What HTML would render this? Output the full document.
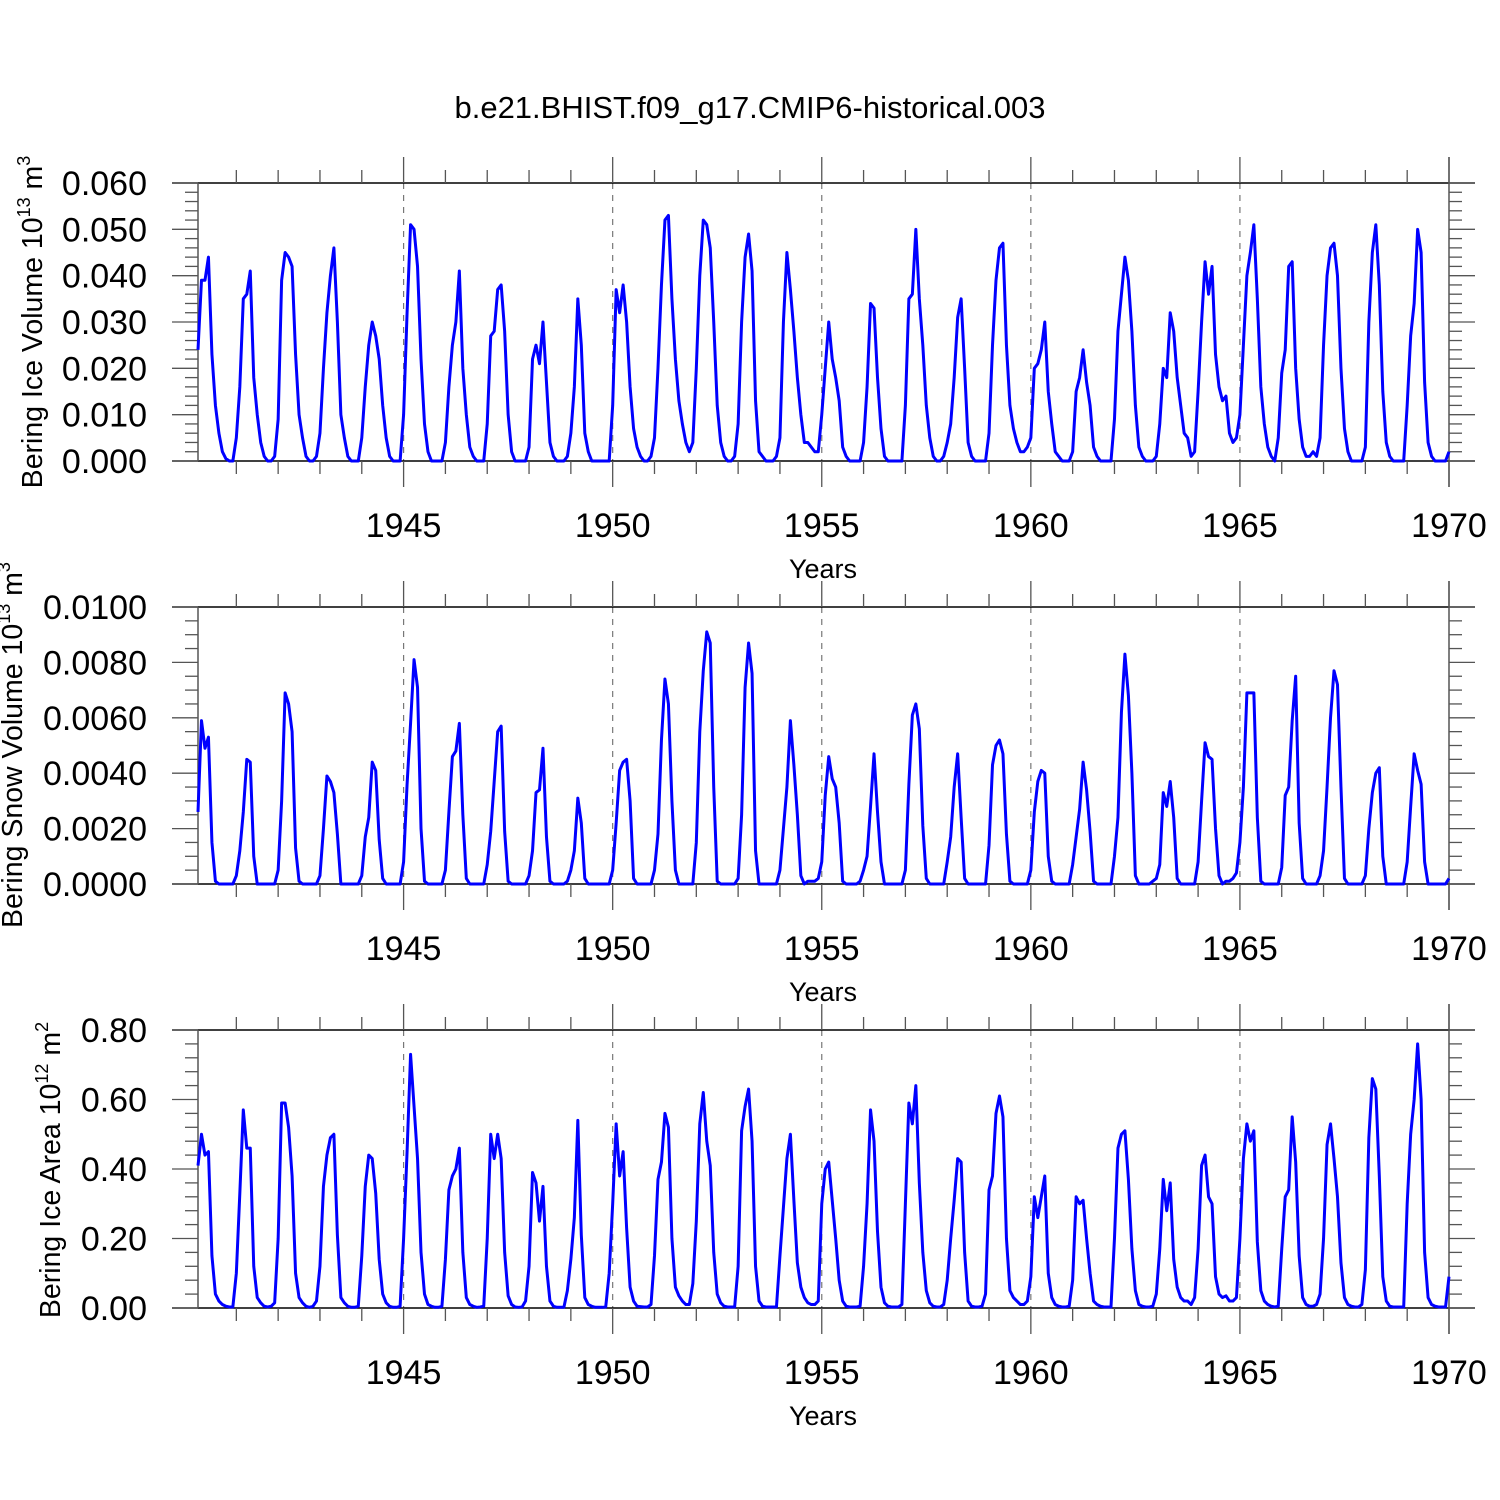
<!DOCTYPE html>
<html><head><meta charset="utf-8"><style>
html,body{margin:0;padding:0;background:#fff}
svg{display:block}
text{font-family:"Liberation Sans",Arial,sans-serif;fill:#000}
</style></head><body>
<svg id="chart" width="1500" height="1500" viewBox="0 0 1500 1500" xmlns="http://www.w3.org/2000/svg">
<text x="750" y="118" font-size="31" text-anchor="middle">b.e21.BHIST.f09_g17.CMIP6-historical.003</text>
</svg>
<script>
const xStart = 1940;
const xTickYears = [1945, 1950, 1955, 1960, 1965, 1970];
const iceVolume = [
.024,.039,.039,.044,.023,.012,.006,.002,.0005,0,0,.005,
.016,.035,.036,.041,.018,.010,.004,.001,0,0,.001,.009,
.039,.045,.044,.042,.023,.010,.005,.001,0,0,.001,.006,
.020,.032,.040,.046,.030,.010,.005,.001,0,0,0,.005,
.016,.025,.030,.027,.022,.012,.005,.001,0,0,0,.010,
.032,.051,.050,.042,.022,.008,.002,0,0,0,0,.004,
.016,.025,.030,.041,.020,.010,.003,.001,0,0,0,.008,
.027,.028,.037,.038,.028,.010,.002,0,0,0,0,.003,
.022,.025,.021,.030,.017,.004,.001,0,0,0,.001,.006,
.016,.035,.025,.006,.002,0,0,0,0,0,0,.012,
.037,.032,.038,.030,.016,.007,.003,.001,0,0,.001,.005,
.020,.038,.052,.053,.035,.022,.013,.008,.004,.002,.004,.020,
.040,.052,.051,.046,.030,.012,.004,.001,0,0,.001,.008,
.030,.044,.049,.041,.013,.002,.001,0,0,0,.001,.005,
.030,.045,.037,.028,.018,.010,.004,.004,.003,.002,.002,.010,
.020,.030,.022,.018,.013,.003,.001,0,0,0,0,.004,
.016,.034,.033,.018,.007,.001,0,0,0,0,0,.012,
.035,.036,.050,.035,.025,.012,.005,.001,0,0,.001,.004,
.008,.018,.031,.035,.020,.004,.001,0,0,0,0,.006,
.025,.039,.046,.047,.025,.012,.007,.004,.002,.002,.003,.005,
.020,.021,.024,.030,.015,.008,.002,.001,0,0,0,.002,
.015,.018,.024,.017,.012,.003,.001,0,0,0,0,.009,
.028,.036,.044,.039,.028,.012,.003,.001,0,0,0,.001,
.008,.020,.018,.032,.028,.018,.012,.006,.005,.001,.002,.015,
.030,.043,.036,.042,.023,.016,.013,.014,.006,.004,.005,.010,
.025,.040,.045,.051,.035,.016,.008,.003,.001,0,.005,.019,
.024,.042,.043,.020,.009,.003,.001,.001,.002,.001,.005,.025,
.040,.046,.047,.040,.020,.007,.002,0,0,0,0,.003,
.030,.045,.051,.038,.015,.004,.001,0,0,0,0,.012,
.027,.034,.050,.045,.017,.004,.001,0,0,0,0,.002];
const snowVolume = [
.0026,.0059,.0049,.0053,.0015,.0001,0,0,0,0,0,.0003,
.0012,.0026,.0045,.0044,.0010,0,0,0,0,0,0,.0005,
.0030,.0069,.0065,.0055,.0013,.0001,0,0,0,0,0,.0003,
.0020,.0039,.0037,.0033,.0018,0,0,0,0,0,0,.0003,
.0017,.0024,.0044,.0041,.0016,.0002,0,0,0,0,0,.0008,
.0036,.0058,.0081,.0071,.0020,.0001,0,0,0,0,0,.0005,
.0026,.0046,.0048,.0058,.0025,.0002,0,0,0,0,0,.0007,
.0019,.0037,.0055,.0057,.0019,.0001,0,0,0,0,0,.0003,
.0012,.0033,.0034,.0049,.0017,.0001,0,0,0,0,.0001,.0005,
.0012,.0031,.0022,.0002,0,0,0,0,0,0,0,.0005,
.0022,.0041,.0044,.0045,.0030,.0002,0,0,0,0,0,.0005,
.0018,.0052,.0074,.0065,.0030,.0005,0,0,0,0,0,.0015,
.0055,.0077,.0091,.0087,.0035,.0001,0,0,0,0,0,.0002,
.0025,.0071,.0087,.0076,.0012,0,0,0,0,0,0,.0005,
.0020,.0035,.0059,.0043,.0025,.0003,0,.0001,.0001,.0001,.0002,.0008,
.0032,.0046,.0038,.0035,.0022,.0001,0,0,0,0,.0001,.0005,
.0010,.0028,.0047,.0026,.0008,0,0,0,0,0,0,.0005,
.0036,.0061,.0065,.0056,.0021,.0002,0,0,0,0,0,.0008,
.0017,.0035,.0047,.0024,.0002,0,0,0,0,0,0,.0014,
.0043,.0050,.0052,.0047,.0018,.0001,0,0,0,0,0,.0005,
.0026,.0037,.0041,.0040,.0010,.0001,0,0,0,0,0,.0007,
.0017,.0027,.0044,.0034,.0019,.0001,0,0,0,0,0,.0010,
.0024,.0062,.0083,.0068,.0040,.0003,0,0,0,0,.0001,.0002,
.0007,.0033,.0028,.0037,.0024,.0002,0,0,0,0,0,.0008,
.0030,.0051,.0046,.0045,.0020,.0003,0,.0001,.0001,.0002,.0004,.0015,
.0035,.0069,.0069,.0069,.0024,.0001,0,0,0,0,0,.0006,
.0032,.0035,.0059,.0075,.0022,.0002,0,0,0,0,.0003,.0012,
.0035,.0060,.0077,.0072,.0035,.0002,0,0,0,0,0,.0003,
.0020,.0033,.0040,.0042,.0010,0,0,0,0,0,0,.0008,
.0028,.0047,.0041,.0036,.0008,0,0,0,0,0,0,.0002];
const iceArea = [
.41,.50,.44,.45,.15,.04,.02,.01,.005,.003,.003,.10,
.33,.57,.46,.46,.12,.03,.015,.005,.003,.005,.015,.20,
.59,.59,.52,.38,.10,.03,.015,.005,.002,.005,.02,.12,
.35,.44,.49,.50,.21,.03,.015,.005,.002,.002,.005,.15,
.35,.44,.43,.33,.14,.04,.015,.005,.002,.002,.005,.20,
.45,.73,.58,.43,.16,.04,.01,.005,.002,.002,.005,.14,
.34,.38,.40,.46,.16,.03,.01,.005,.002,.003,.005,.20,
.50,.43,.50,.43,.16,.035,.01,.003,.002,.003,.02,.12,
.39,.36,.25,.35,.12,.02,.005,.002,.002,.002,.05,.14,
.26,.54,.21,.03,.01,.005,.002,.002,.002,.003,.10,.30,
.53,.38,.45,.23,.06,.02,.005,.004,.003,.003,.01,.15,
.37,.42,.56,.52,.20,.06,.035,.02,.01,.01,.07,.25,
.53,.62,.48,.41,.16,.04,.015,.005,.003,.003,.003,.12,
.51,.58,.63,.48,.12,.02,.005,.003,.003,.003,.003,.15,
.29,.43,.50,.31,.13,.06,.03,.015,.01,.01,.02,.30,
.40,.42,.31,.20,.08,.02,.005,.003,.003,.003,.005,.12,
.30,.57,.48,.22,.06,.015,.005,.003,.003,.003,.01,.30,
.59,.53,.64,.36,.16,.05,.015,.005,.003,.003,.01,.08,
.20,.31,.43,.42,.16,.02,.005,.003,.003,.005,.04,.34,
.38,.56,.61,.55,.20,.05,.03,.02,.01,.01,.02,.09,
.32,.26,.32,.38,.10,.03,.01,.005,.003,.003,.005,.08,
.32,.30,.31,.20,.10,.02,.01,.005,.003,.003,.003,.20,
.46,.50,.51,.37,.17,.05,.01,.005,.003,.003,.005,.04,
.17,.37,.28,.36,.14,.06,.03,.02,.02,.01,.03,.17,
.41,.44,.32,.30,.09,.04,.03,.035,.02,.02,.03,.20,
.43,.53,.48,.51,.19,.05,.02,.01,.005,.003,.005,.17,
.32,.34,.55,.42,.15,.03,.01,.005,.005,.01,.04,.20,
.47,.53,.43,.32,.13,.03,.01,.005,.003,.003,.01,.11,
.49,.66,.63,.38,.09,.02,.005,.003,.003,.003,.003,.30,
.50,.60,.76,.60,.16,.03,.01,.005,.003,.003,.003,.09];

const NS = 'http://www.w3.org/2000/svg';
const svg = document.getElementById('chart');
function mk(tag, attrs, parent){
  const e = document.createElementNS(NS, tag);
  for (const k in attrs) e.setAttribute(k, attrs[k]);
  (parent||svg).appendChild(e);
  return e;
}
const X0 = 198, X1 = 1449, BL = 172, BR = 1475;
function xScale(t){ return X0 + (t - (xStart + 1/12)) * (X1 - X0) / (1970 - (xStart + 1/12)); }

const panels = [
 {name:'ice-volume', data:iceVolume, top:183, bot:461, max:0.06, major:0.01, minor:0.002, dec:3,
  title:'Bering Ice Volume 10', exp:'13', unit:' m', uexp:'3', tx:42, ty:322},
 {name:'snow-volume', data:snowVolume, top:607, bot:884, max:0.01, major:0.002, minor:0.0005, dec:4,
  title:'Bering Snow Volume 10', exp:'13', unit:' m', uexp:'3', tx:22, ty:745},
 {name:'ice-area', data:iceArea, top:1030, bot:1308, max:0.8, major:0.2, minor:0.04, dec:2,
  title:'Bering Ice Area 10', exp:'12', unit:' m', uexp:'2', tx:60, ty:1170}
];

panels.forEach(p => {
  const g = mk('g', {});
  
  
  const yS = v => p.bot - v / p.max * (p.bot - p.top);
  xTickYears.slice(0,5).forEach(yr => {
    const l = mk('line', {x1:xScale(yr), x2:xScale(yr), y1:p.top, y2:p.bot, stroke:'#777', 'stroke-width':1.2, 'stroke-dasharray':'6,6'}, g);
    
    
  });
  const st = {stroke:'#000', 'stroke-width':1.5};
  mk('line', Object.assign({x1:BL, x2:BR, y1:p.top, y2:p.top}, st), g);
  mk('line', Object.assign({x1:BL, x2:BR, y1:p.bot, y2:p.bot}, st), g);
  const ya = mk('line', {x1:X0, x2:X0, y1:p.top, y2:p.bot, stroke:'#555', 'stroke-width':1.5}, g);
  
  
  mk('line', {x1:X1, x2:X1, y1:p.top-26, y2:p.bot+26, stroke:'#555', 'stroke-width':1.5}, g);
  const nMin = Math.round(p.max / p.minor);
  for (let k = 0; k <= nMin; k++) {
    const v = k * p.minor, y = yS(v);
    const isMaj = Math.abs(v / p.major - Math.round(v / p.major)) < 1e-6;
    const len = isMaj ? 26 : 13;
    mk('line', {x1:X0-len, x2:X0, y1:y, y2:y, stroke:'#555', 'stroke-width':1.3}, g);
    mk('line', {x1:X1, x2:X1+len, y1:y, y2:y, stroke:'#555', 'stroke-width':1.3}, g);
    if (isMaj) {
      const t = mk('text', {x:147, y:y+12, 'font-size':34, 'text-anchor':'end'}, g);
      t.textContent = v.toFixed(p.dec);
      
      
    }
  }
  for (let yr = 1941; yr <= 1970; yr++) {
    const x = xScale(yr);
    const isMaj = yr % 5 === 0;
    const len = isMaj ? 26 : 13;
    mk('line', {x1:x, x2:x, y1:p.top-len, y2:p.top, stroke:'#555', 'stroke-width':1.3}, g);
    mk('line', {x1:x, x2:x, y1:p.bot, y2:p.bot+len, stroke:'#555', 'stroke-width':1.3}, g);
  }
  xTickYears.forEach(yr => {
    const t = mk('text', {x:xScale(yr), y:p.bot+76, 'font-size':34, 'text-anchor':'middle'}, g);
    t.textContent = yr;
    
    
  });
  const xt = mk('text', {x:823, y:p.bot+117, 'font-size':27, 'text-anchor':'middle'}, g);
  xt.textContent = 'Years';
  
  
  const yt = mk('text', {x:p.tx, y:p.ty, 'font-size':28.5, 'text-anchor':'middle', transform:'rotate(-90 '+p.tx+' '+p.ty+')'}, g);
  
  
  yt.innerHTML = p.title + '<tspan font-size="18" dy="-12">' + p.exp + '</tspan><tspan dy="12">' + p.unit + '</tspan><tspan font-size="18" dy="-12">' + p.uexp + '</tspan>';
  const pts = p.data.map((v, i) => xScale(xStart + (i + 1) / 12).toFixed(2) + ',' + yS(v).toFixed(2)).join(' ');
  const line = mk('polyline', {points:pts, fill:'none', stroke:'#0000ff', 'stroke-width':3, 'stroke-linejoin':'round'}, g);
  
  
});
</script>
</body></html>
